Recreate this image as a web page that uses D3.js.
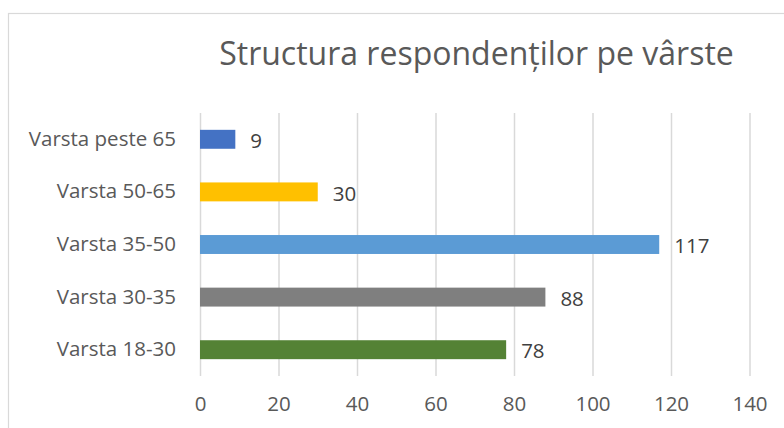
<!DOCTYPE html>
<html>
<head>
<meta charset="utf-8">
<script src="https://cdn.jsdelivr.net/npm/d3@7"></script>
<style>
  body { margin: 0; background: #fff; }
  text { font-family: "Open Sans", sans-serif; }
</style>
</head>
<body>
<div id="chart"></div>
<script>
// data, top to bottom as in the picture
var categories = ["Varsta peste 65", "Varsta 50-65", "Varsta 35-50", "Varsta 30-35", "Varsta 18-30"];
var values = [9, 30, 117, 88, 78];
var barColors = ["#4472C4", "#FFC000", "#5B9BD5", "#7F7F7F", "#548235"];
var xTicks = [0, 20, 40, 60, 80, 100, 120, 140];
var title = "Structura respondenților pe vârste";

var svgWidth = 784;
var svgHeight = 428;

var margin = { top: 113, right: 34.5, bottom: 52, left: 200 };
var width = svgWidth - margin.left - margin.right;
var height = svgHeight - margin.top - margin.bottom;

var svg = d3.select("#chart")
  .append("svg")
  .attr("width", svgWidth)
  .attr("height", svgHeight);

// chart frame (only left and top edges fall inside the picture)
svg.append("rect")
  .attr("x", 8.5)
  .attr("y", 13.5)
  .attr("width", svgWidth + 20)
  .attr("height", svgHeight + 20)
  .attr("fill", "none")
  .attr("stroke", "#d9d9d9")
  .attr("stroke-width", 1.2);

var chartGroup = svg.append("g")
  .attr("transform", `translate(${margin.left}, ${margin.top})`);

//scales
var xScale = d3.scaleLinear()
  .domain([0, 140])
  .range([0, width]);

var yScale = d3.scaleBand()
  .domain(categories)
  .range([0, height])
  .paddingInner(0.64)
  .paddingOuter(0.32);

//gridlines
var grid = chartGroup.append("g")
  .call(d3.axisBottom(xScale).tickValues(xTicks).tickSize(height).tickFormat(""));
grid.select(".domain").remove();
grid.selectAll("line")
  .attr("stroke", "#d9d9d9")
  .attr("stroke-width", 1.5);

//x tick labels
var xAxis = chartGroup.append("g")
  .attr("transform", `translate(0, ${height})`)
  .call(d3.axisBottom(xScale).tickValues(xTicks).tickSize(0).tickPadding(20));
xAxis.select(".domain").remove();
xAxis.selectAll("text")
  .style("font-size", "20.5px")
  .attr("fill", "#595959");

//category labels
var yAxis = chartGroup.append("g")
  .call(d3.axisLeft(yScale).tickSize(0).tickPadding(24));
yAxis.select(".domain").remove();
yAxis.selectAll("text")
  .style("font-size", "20.5px")
  .attr("fill", "#595959");

//bars
chartGroup.selectAll(".bar")
  .data(categories)
  .enter()
  .append("rect")
  .attr("class", "bar")
  .attr("x", xScale(0))
  .attr("y", d => yScale(d))
  .attr("width", (d, i) => xScale(values[i]) - xScale(0))
  .attr("height", yScale.bandwidth())
  .attr("fill", (d, i) => barColors[i]);

//value labels
chartGroup.selectAll(".val")
  .data(categories)
  .enter()
  .append("text")
  .attr("class", "val")
  .attr("x", (d, i) => xScale(values[i]) + 15)
  .attr("y", d => yScale(d) + yScale.bandwidth() / 2 + 1.5)
  .attr("dy", "0.35em")
  .style("font-size", "20.5px")
  .attr("fill", "#404040")
  .text((d, i) => values[i]);

//title
svg.append("text")
  .attr("x", 476.5)
  .attr("y", 65)
  .attr("text-anchor", "middle")
  .style("font-size", "32px")
  .attr("fill", "#595959")
  .text(title);
</script>
</body>
</html>
